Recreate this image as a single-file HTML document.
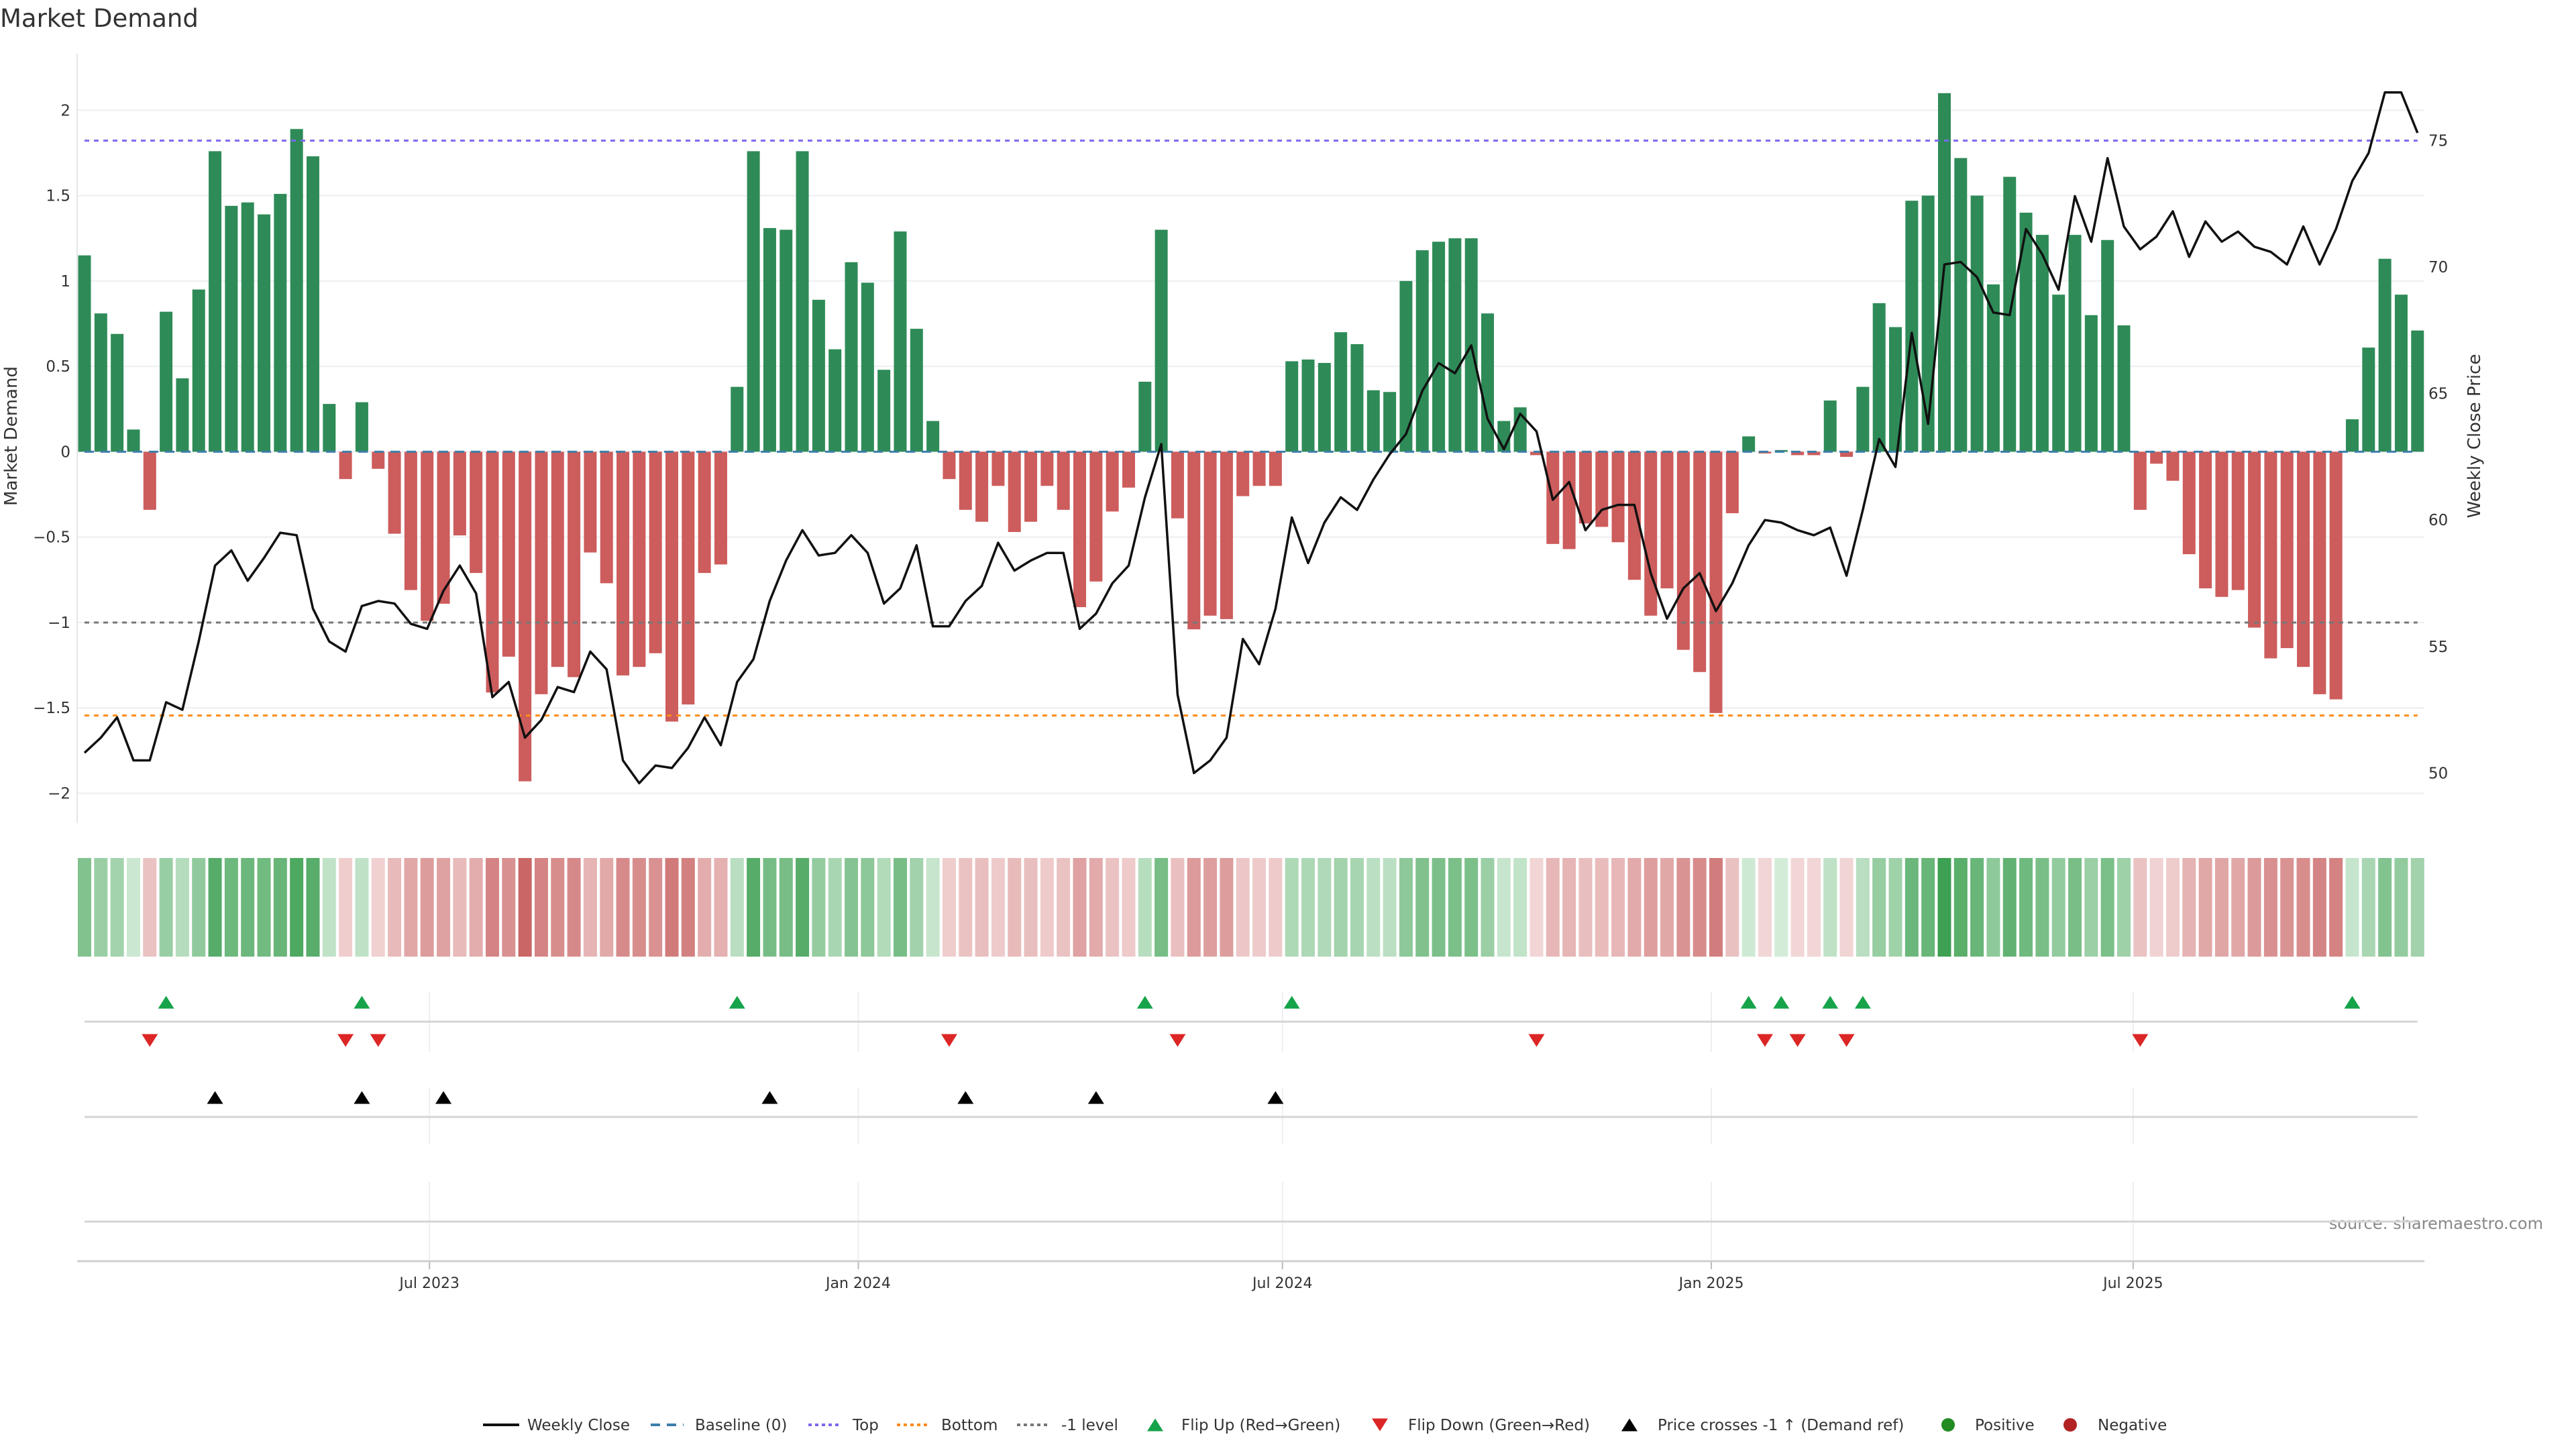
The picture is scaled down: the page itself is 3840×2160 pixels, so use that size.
<!DOCTYPE html>
<html><head><meta charset="utf-8"><title>Market Demand</title>
<style>
html,body{margin:0;padding:0;background:#fff;}
svg{display:block;font-family:"DejaVu Sans","Liberation Sans",sans-serif;}
</style></head>
<body>
<svg id="chart" width="3840" height="2160" viewBox="0 0 3840 2160" xmlns="http://www.w3.org/2000/svg">
<rect x="0" y="0" width="3840" height="2160" fill="#ffffff"/>
<text x="0" y="40" font-size="37" fill="#333">Market Demand</text>
<text x="0" y="0" font-size="26" fill="#333" text-anchor="middle" transform="translate(25,650) rotate(-90)">Market Demand</text>
<text x="0" y="0" font-size="26" fill="#333" text-anchor="middle" transform="translate(3697,650) rotate(-90)">Weekly Close Price</text>
<text x="3791" y="1832" font-size="24" fill="#888" text-anchor="end">source: sharemaestro.com</text>
<g id="plot"></g>
<g id="legend"></g>
</svg>
<script>
// ---- data ----
const demand = [1.15,0.81,0.69,0.13,-0.34,0.82,0.43,0.95,1.76,1.44,
1.46,1.39,1.51,1.89,1.73,0.28,-0.16,0.29,-0.10,-0.48,
-0.81,-0.99,-0.89,-0.49,-0.71,-1.41,-1.20,-1.93,-1.42,-1.26,
-1.32,-0.59,-0.77,-1.31,-1.26,-1.18,-1.58,-1.48,-0.71,-0.66,
0.38,1.76,1.31,1.30,1.76,0.89,0.60,1.11,0.99,0.48,
1.29,0.72,0.18,-0.16,-0.34,-0.41,-0.20,-0.47,-0.41,-0.20,
-0.34,-0.91,-0.76,-0.35,-0.21,0.41,1.30,-0.39,-1.04,-0.96,
-0.98,-0.26,-0.20,-0.20,0.53,0.54,0.52,0.70,0.63,0.36,
0.35,1.00,1.18,1.23,1.25,1.25,0.81,0.18,0.26,-0.02,
-0.54,-0.57,-0.42,-0.44,-0.53,-0.75,-0.96,-0.80,-1.16,-1.29,
-1.53,-0.36,0.09,-0.01,0.01,-0.02,-0.02,0.30,-0.03,0.38,
0.87,0.73,1.47,1.50,2.10,1.72,1.50,0.98,1.61,1.40,
1.27,0.92,1.27,0.80,1.24,0.74,-0.34,-0.07,-0.17,-0.60,
-0.80,-0.85,-0.81,-1.03,-1.21,-1.15,-1.26,-1.42,-1.45,0.19,
0.61,1.13,0.92,0.71];
const price = [50.8,51.4,52.2,50.5,50.5,52.8,52.5,55.2,58.2,58.8,
57.6,58.5,59.5,59.4,56.5,55.2,54.8,56.6,56.8,56.7,
55.9,55.7,57.2,58.2,57.1,53.0,53.6,51.4,52.1,53.4,
53.2,54.8,54.1,50.5,49.6,50.3,50.2,51.0,52.2,51.1,
53.6,54.5,56.8,58.4,59.6,58.6,58.7,59.4,58.7,56.7,
57.3,59.0,55.8,55.8,56.8,57.4,59.1,58.0,58.4,58.7,
58.7,55.7,56.3,57.5,58.2,60.9,63.0,53.1,50.0,50.5,
51.4,55.3,54.3,56.5,60.1,58.3,59.9,60.9,60.4,61.6,
62.6,63.4,65.1,66.2,65.8,66.9,64.0,62.8,64.2,63.5,
60.8,61.5,59.6,60.4,60.6,60.6,57.9,56.1,57.3,57.9,
56.4,57.5,59.0,60.0,59.9,59.6,59.4,59.7,57.8,60.4,
63.2,62.1,67.4,63.8,70.1,70.2,69.6,68.2,68.1,71.5,
70.5,69.1,72.8,71.0,74.3,71.6,70.7,71.2,72.2,70.4,
71.8,71.0,71.4,70.8,70.6,70.1,71.6,70.1,71.5,73.4,
74.5,76.9,76.9,75.3];
const firstDate = "2023-02-03";
const tickDates = ["2023-07-01","2024-01-01","2024-07-01","2025-01-01","2025-07-01"];
const tickLabels = ["Jul 2023","Jan 2024","Jul 2024","Jan 2025","Jul 2025"];
const leftTicks = [2,1.5,1,0.5,0,-0.5,-1,-1.5,-2];
const rightTicks = [50,55,60,65,70,75];
const topLevel = 1.822;
const bottomLevel = -1.545;
const minusLevel = -1;

// ---- scales ----
const NS = "http://www.w3.org/2000/svg";
const plot = document.getElementById('plot');
const legend = document.getElementById('legend');
const X0 = 126, STEP = 24.32;
const PL = 115, PR = 3614, PT = 80, PB = 1227;
function xIdx(i){ return X0 + i*STEP; }
const t0 = Date.parse(firstDate+"T00:00:00Z");
function xDate(s){ return X0 + (Date.parse(s+"T00:00:00Z")-t0)/(7*86400000)*STEP; }
const Y0 = 673.4, UNIT = 254.55;
function yL(v){ return Y0 - v*UNIT; }
function yR(p){ return 209.4 + (75-p)*37.72; }
function pFromY(y){ return 75 - (y-209.4)/37.72; }
function mk(tag, attrs, parent){
  const e = document.createElementNS(NS, tag);
  for (const k in attrs) e.setAttribute(k, attrs[k]);
  (parent||plot).appendChild(e);
  return e;
}

// ---- main panel grid ----
leftTicks.forEach(function(v){
  const g = mk('line',{x1:PL,x2:PR,y1:yL(v),y2:yL(v),stroke:'#eceef2','stroke-width':2});
  
  
  const t = mk('text',{x:105,y:yL(v)+8,'font-size':23,fill:'#333','text-anchor':'end'});
  t.textContent = String(v).replace('-','\u2212');
  
  
});
rightTicks.forEach(function(p){
  const t = mk('text',{x:3620,y:yR(p)+8,'font-size':23,fill:'#333'});
  t.textContent = String(p);
  
  
});
const ax = mk('line',{x1:PL,x2:PL,y1:PT,y2:PB,stroke:'#e4e6ea','stroke-width':2});



// ---- bars ----
demand.forEach(function(v,i){
  const y1 = yL(Math.max(v,0)), y2 = yL(Math.min(v,0));
  const r = mk('rect',{x:xIdx(i)-9.5,y:y1,width:19,height:Math.max(y2-y1,0.5),fill:v>=0?'#2e8b57':'#cd5c5c'});
  
  
});

// ---- reference lines ----
const xa = xIdx(0), xb = xIdx(demand.length-1);
const base = mk('line',{x1:xa,x2:xb,y1:yL(0),y2:yL(0),stroke:'#3d7eaa','stroke-width':3,'stroke-dasharray':'14,10'});


const topL = mk('line',{x1:xa,x2:xb,y1:yL(topLevel),y2:yL(topLevel),stroke:'#7b68ee','stroke-width':3,'stroke-dasharray':'7,7'});


const botL = mk('line',{x1:xa,x2:xb,y1:yL(bottomLevel),y2:yL(bottomLevel),stroke:'#ff8c1a','stroke-width':3,'stroke-dasharray':'7,7'});


const m1 = mk('line',{x1:xa,x2:xb,y1:yL(minusLevel),y2:yL(minusLevel),stroke:'#777','stroke-width':3,'stroke-dasharray':'7,7'});



// ---- price line ----
const pts = price.map(function(p,i){ return xIdx(i).toFixed(1)+','+yR(p).toFixed(1); }).join(' ');
const pl = mk('polyline',{points:pts,fill:'none',stroke:'#111','stroke-width':3.5,'stroke-linejoin':'round'});



// ---- heatmap strip ----
function lerp(a,b,t){ return Math.round(a+(b-a)*t); }
demand.forEach(function(v,i){
  const t = Math.min(Math.abs(v)/2.1,1);
  let c;
  if (v>=0) c = 'rgb('+lerp(212,62,t)+','+lerp(236,160,t)+','+lerp(217,82,t)+')';
  else c = 'rgb('+lerp(242,198,t)+','+lerp(214,92,t)+','+lerp(214,92,t)+')';
  const r = mk('rect',{x:xIdx(i)-10,y:1279,width:20,height:147,fill:c});
  
  
});

// ---- lower panels grid ----
const panels = [[1479,1568],[1622,1706],[1762,1880]];
tickDates.forEach(function(d,k){
  const x = xDate(d);
  panels.forEach(function(p){
    const g = mk('line',{x1:x,x2:x,y1:p[0],y2:p[1],stroke:'#eceef2','stroke-width':2});
    
    
  });
  const tk = mk('line',{x1:x,x2:x,y1:1880,y2:1892,stroke:'#bbb','stroke-width':2});
  
  
  const t = mk('text',{x:x,y:1920,'font-size':22,fill:'#333','text-anchor':'middle'});
  t.textContent = tickLabels[k];
  
  
});
[1523,1665,1821].forEach(function(y){
  const l = mk('line',{x1:xa,x2:xb,y1:y,y2:y,stroke:'#d4d4d4','stroke-width':3});
  
  
});
const xaxis = mk('line',{x1:PL,x2:PR,y1:1880,y2:1880,stroke:'#cfcfcf','stroke-width':3});



// ---- markers ----
function tri(x,y,up,color,parent){
  const h = 19, w = 12;
  const p = up ? (x-w)+','+(y+h/2)+' '+(x+w)+','+(y+h/2)+' '+x+','+(y-h/2)
               : (x-w)+','+(y-h/2)+' '+(x+w)+','+(y-h/2)+' '+x+','+(y+h/2);
  return mk('polygon',{points:p,fill:color},parent);
}
const crossPrice = pFromY(yL(minusLevel));
for (let i=1;i<demand.length;i++){
  if (demand[i-1]<0 && demand[i]>=0){
    const m = tri(xIdx(i),1494,true,'#16a34a');
    
    
  }
  if (demand[i-1]>=0 && demand[i]<0){
    const m = tri(xIdx(i),1551,false,'#dc2626');
    
    
  }
  if (price[i-1]<crossPrice && price[i]>=crossPrice){
    const m = tri(xIdx(i),1636,true,'#000');
    
    
  }
}

// ---- legend ----
const LY = 2124;
function ltext(x,s){
  const t = mk('text',{x:x,y:LY+8,'font-size':23,fill:'#333'},legend);
  t.textContent = s;
  
  
}
const l1 = mk('line',{x1:720,x2:774,y1:LY,y2:LY,stroke:'#111','stroke-width':4},legend);


ltext(786,'Weekly Close');
const l2 = mk('line',{x1:970,x2:1019,y1:LY,y2:LY,stroke:'#3d7eaa','stroke-width':4,'stroke-dasharray':'14,10'},legend);


ltext(1036,'Baseline (0)');
const l3 = mk('line',{x1:1205,x2:1254,y1:LY,y2:LY,stroke:'#7b68ee','stroke-width':4,'stroke-dasharray':'5,5'},legend);


ltext(1271,'Top');
const l4 = mk('line',{x1:1337,x2:1386,y1:LY,y2:LY,stroke:'#ff8c1a','stroke-width':4,'stroke-dasharray':'5,5'},legend);


ltext(1403,'Bottom');
const l5 = mk('line',{x1:1516,x2:1565,y1:LY,y2:LY,stroke:'#777','stroke-width':4,'stroke-dasharray':'5,5'},legend);


ltext(1582,'-1 level');
const l6 = tri(1722,LY,true,'#16a34a',legend);


ltext(1761,'Flip Up (Red\u2192Green)');
const l7 = tri(2057,LY,false,'#dc2626',legend);


ltext(2099,'Flip Down (Green\u2192Red)');
const l8 = tri(2429,LY,true,'#000',legend);


ltext(2471,'Price crosses -1 \u2191 (Demand ref)');
const l9 = mk('circle',{cx:2904,cy:LY,r:10,fill:'#228b22'},legend);


ltext(2944,'Positive');
const l10 = mk('circle',{cx:3086,cy:LY,r:10,fill:'#b22222'},legend);


ltext(3127,'Negative');
</script>
</body></html>
